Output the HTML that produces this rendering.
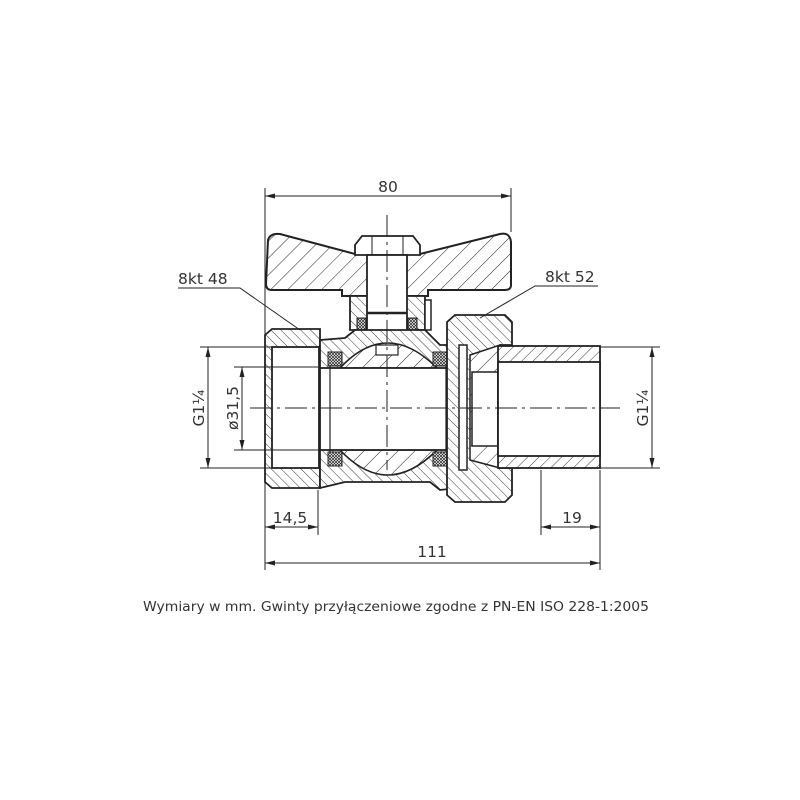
<!DOCTYPE html>
<html><head><meta charset="utf-8"><style>
html,body{margin:0;padding:0;background:#fff;}
svg{display:block;}
text{font-family:"DejaVu Sans","Liberation Sans",sans-serif;fill:#333;}
</style></head><body>
<svg width="800" height="800" viewBox="0 0 800 800" xmlns="http://www.w3.org/2000/svg">
<defs>
<pattern id="h1" patternUnits="userSpaceOnUse" width="12" height="12" patternTransform="rotate(45)">
<rect width="12" height="12" fill="#fff"/><line x1="0" y1="0" x2="0" y2="12" stroke="#222" stroke-width="1"/></pattern>
<pattern id="h2" patternUnits="userSpaceOnUse" width="7" height="7" patternTransform="rotate(-45)">
<rect width="7" height="7" fill="#fff"/><line x1="0" y1="0" x2="0" y2="7" stroke="#222" stroke-width="0.9"/></pattern>
<pattern id="h3" patternUnits="userSpaceOnUse" width="8" height="8" patternTransform="rotate(45)">
<rect width="8" height="8" fill="#fff"/><line x1="0" y1="0" x2="0" y2="8" stroke="#222" stroke-width="0.9"/></pattern>
<pattern id="xx" patternUnits="userSpaceOnUse" width="3" height="3">
<rect width="3" height="3" fill="#fff"/><path d="M0 0L3 3M3 0L0 3" stroke="#222" stroke-width="0.7"/></pattern>
<marker id="ar" markerWidth="10" markerHeight="6" refX="10" refY="3" orient="auto-start-reverse" markerUnits="userSpaceOnUse">
<path d="M0 0.5L10 3L0 5.5z" fill="#222"/></marker>
</defs>
<g stroke="#222" fill="none">
<path d="M268 240 Q270 233 280 234 L355 254 L420 254 L500 234 Q510 232 511 242 L511 285 Q511 290 505 290 L428 290 L428 296 L342 296 L342 290 L272 290 Q266 290 266 284 Z" fill="url(#h1)" stroke-width="2"/>
<path d="M355 245 L362 236 L413 236 L420 245 L420 255 L355 255 Z" fill="#fff" stroke-width="1.8"/>
<line x1="372" y1="236" x2="372" y2="255" stroke-width="1"/><line x1="403" y1="236" x2="403" y2="255" stroke-width="1"/>
<path d="M350 296 L350 330 L425 330 L425 296 Z" fill="url(#h2)" stroke-width="1.8"/>
<rect x="367" y="255" width="40" height="90" fill="#fff" stroke-width="1.8"/>
<line x1="367" y1="313" x2="407" y2="313" stroke-width="2.5"/>
<rect x="357" y="318" width="9" height="14" fill="url(#xx)" stroke-width="1"/>
<rect x="408" y="318" width="9" height="14" fill="url(#xx)" stroke-width="1"/>
<rect x="425" y="300" width="6" height="30" fill="#fff" stroke-width="1.5"/>
<path d="M265 335 L272 329 L320 329 L320 488 L272 488 L265 482 Z" fill="url(#h2)" stroke-width="1.8"/>
<rect x="272" y="347" width="47" height="121" fill="#fff" stroke-width="1.8"/>
<path d="M320 340 L345 338 L355 330 L425 330 L440 345 L458 345 L458 488 L440 490 L430 482 L345 482 L320 488 Z" fill="url(#h2)" stroke-width="1.8"/>
<path d="M340 368 Q387 318 437 368 Z" fill="url(#h1)" stroke-width="1.6"/>
<path d="M340 450 Q387 500 437 450 Z" fill="url(#h1)" stroke-width="1.6"/>
<rect x="376" y="345" width="22" height="10" fill="#fff" stroke-width="1.2"/>
<rect x="320" y="368" width="138" height="82" fill="#fff" stroke-width="1.8"/>
<line x1="330" y1="360" x2="330" y2="458" stroke-width="1.2"/>
<line x1="446" y1="360" x2="446" y2="458" stroke-width="1.2"/>
<rect x="328" y="352" width="14" height="14" fill="url(#xx)" stroke-width="1"/>
<rect x="433" y="352" width="14" height="14" fill="url(#xx)" stroke-width="1"/>
<rect x="328" y="452" width="14" height="14" fill="url(#xx)" stroke-width="1"/>
<rect x="433" y="452" width="14" height="14" fill="url(#xx)" stroke-width="1"/>
<path d="M447 322 L455 315 L505 315 L512 322 L512 345 L500 345 L500 468 L512 468 L512 495 L505 502 L455 502 L447 495 Z" fill="url(#h2)" stroke-width="1.8"/>
<rect x="459" y="345" width="8" height="125" fill="#fff" stroke-width="1.5"/>
<path d="M470 355 L500 345 L500 468 L470 460 Z" fill="url(#h1)" stroke-width="1.5"/>
<rect x="472" y="372" width="26" height="74" fill="#fff" stroke-width="1.5"/>
<rect x="498" y="346" width="102" height="122" fill="url(#h3)" stroke-width="1.8"/>
<rect x="498" y="362" width="102" height="94" fill="#fff" stroke-width="1.8"/>
<line x1="250" y1="408" x2="620" y2="408" stroke-width="1" stroke-dasharray="22,5,3,5"/>
<line x1="387" y1="215" x2="387" y2="470" stroke-width="1" stroke-dasharray="22,5,3,5"/>
</g>
<g stroke="#222" stroke-width="1" fill="none">
<line x1="265" y1="188" x2="265" y2="570"/>
<line x1="511" y1="188" x2="511" y2="232"/>
<line x1="318" y1="490" x2="318" y2="535"/>
<line x1="541" y1="470" x2="541" y2="535"/>
<line x1="600" y1="470" x2="600" y2="570"/>
<line x1="200" y1="347" x2="272" y2="347"/><line x1="200" y1="468" x2="272" y2="468"/>
<line x1="234" y1="367" x2="320" y2="367"/><line x1="234" y1="450" x2="320" y2="450"/>
<line x1="600" y1="347" x2="660" y2="347"/><line x1="600" y1="468" x2="660" y2="468"/>
<line x1="265" y1="196" x2="511" y2="196" marker-start="url(#ar)" marker-end="url(#ar)"/>
<line x1="208" y1="347" x2="208" y2="468" marker-start="url(#ar)" marker-end="url(#ar)"/>
<line x1="242" y1="367" x2="242" y2="450" marker-start="url(#ar)" marker-end="url(#ar)"/>
<line x1="652" y1="347" x2="652" y2="468" marker-start="url(#ar)" marker-end="url(#ar)"/>
<line x1="265" y1="527" x2="318" y2="527" marker-start="url(#ar)" marker-end="url(#ar)"/>
<line x1="541" y1="527" x2="600" y2="527" marker-start="url(#ar)" marker-end="url(#ar)"/>
<line x1="265" y1="563" x2="600" y2="563" marker-start="url(#ar)" marker-end="url(#ar)"/>
<polyline points="178,288 240,288 300,330"/>
<polyline points="598,286 535,286 480,318"/>
</g>
<g font-size="15.5">
<text x="388" y="192" text-anchor="middle">80</text>
<text x="178" y="284">8kt 48</text>
<text x="545" y="282">8kt 52</text>
<text x="290" y="523" text-anchor="middle">14,5</text>
<text x="572" y="523" text-anchor="middle">19</text>
<text x="432" y="557" text-anchor="middle">111</text>
<text transform="translate(204,408) rotate(-90)" text-anchor="middle">G1¼</text>
<text transform="translate(238,408) rotate(-90)" text-anchor="middle">ø31,5</text>
<text transform="translate(648,408) rotate(-90)" text-anchor="middle">G1¼</text>
</g>
<text x="143" y="611" font-size="13" textLength="506" lengthAdjust="spacingAndGlyphs">Wymiary w mm. Gwinty przyłączeniowe zgodne z PN-EN ISO 228-1:2005</text>
</svg>
</body></html>
